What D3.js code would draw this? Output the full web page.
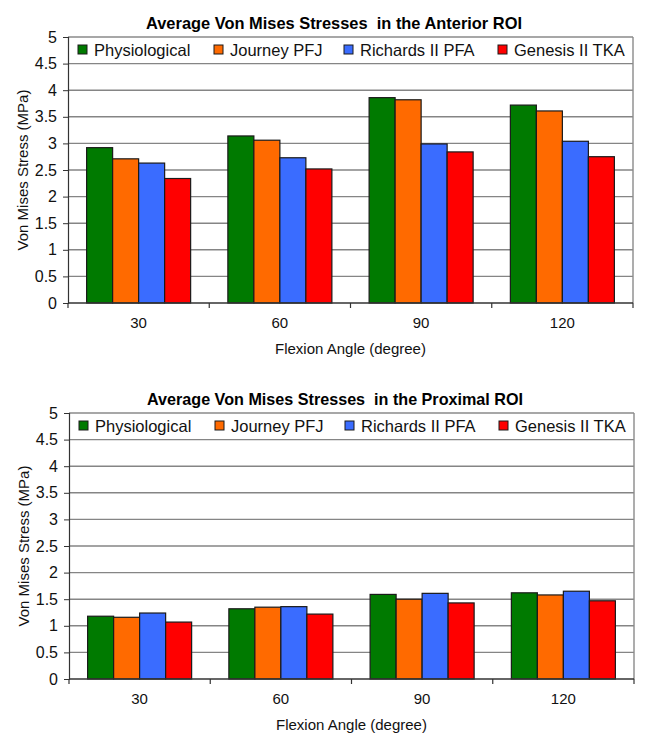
<!DOCTYPE html>
<html>
<head>
<meta charset="utf-8">
<script src="https://cdn.jsdelivr.net/npm/d3@7"></script>
<style>
  html, body { margin: 0; padding: 0; background: #ffffff; }
  svg { display: block; font-family: Arial, "Liberation Sans", sans-serif; }
</style>
</head>
<body>
<svg id="chart" width="656" height="742"></svg>
<script>
// ---- DATA ----
const categories = ["30", "60", "90", "120"];
const seriesNames = ["Physiological", "Journey PFJ", "Richards II PFA", "Genesis II TKA"];
const seriesColors = ["#007a00", "#ff6a00", "#3a6cff", "#ff0000"];
const yTicks = [0, 0.5, 1, 1.5, 2, 2.5, 3, 3.5, 4, 4.5, 5];

// Anterior ROI values [series][category]
const anteriorPhysiological = [2.92, 3.14, 3.86, 3.72];
const anteriorJourney       = [2.71, 3.06, 3.82, 3.61];
const anteriorRichards      = [2.63, 2.73, 2.99, 3.04];
const anteriorGenesis       = [2.34, 2.52, 2.84, 2.75];

// Proximal ROI values [series][category]
const proximalPhysiological = [1.18, 1.32, 1.59, 1.62];
const proximalJourney       = [1.16, 1.35, 1.50, 1.58];
const proximalRichards      = [1.24, 1.36, 1.61, 1.65];
const proximalGenesis       = [1.07, 1.22, 1.43, 1.47];

const charts = [
  { title: "Average Von Mises Stresses  in the Anterior ROI",
    series: [anteriorPhysiological, anteriorJourney, anteriorRichards, anteriorGenesis],
    dx: 0, dy: 0 },
  { title: "Average Von Mises Stresses  in the Proximal ROI",
    series: [proximalPhysiological, proximalJourney, proximalRichards, proximalGenesis],
    dx: 1, dy: 376 }
];

const svg = d3.select("#chart");

const plotLeft = 68, plotRight = 633, plotTop = 37, plotBottom = 303;
const legendSquareX = [78, 214, 344, 498];

charts.forEach(cfg => {
  const g = svg.append("g").attr("transform", `translate(${cfg.dx},${cfg.dy})`);

  const x0 = d3.scaleBand().domain(categories).range([plotLeft, plotRight]).padding(0);
  const x1 = d3.scaleBand().domain(seriesNames).range([0, x0.bandwidth()])
    .paddingInner(0).paddingOuter(0.716);
  const y = d3.scaleLinear().domain([0, 5]).range([plotBottom, plotTop]);

  // gridlines
  g.append("g").selectAll("line")
    .data(yTicks.filter(t => t > 0 && t < 5))
    .join("line")
    .attr("x1", plotLeft).attr("x2", plotRight)
    .attr("y1", d => y(d)).attr("y2", d => y(d))
    .attr("stroke", "#858585").attr("stroke-width", 1.4);

  // plot border top and right
  g.append("line").attr("x1", plotLeft).attr("x2", plotRight)
    .attr("y1", y(5)).attr("y2", y(5))
    .attr("stroke", "#8a8a8a").attr("stroke-width", 1.4);
  g.append("line").attr("x1", plotRight).attr("x2", plotRight)
    .attr("y1", y(5)).attr("y2", y(0))
    .attr("stroke", "#8a8a8a").attr("stroke-width", 1.4);

  // bars
  seriesNames.forEach((name, si) => {
    g.append("g").selectAll("rect")
      .data(categories.map((c, ci) => ({ c, v: cfg.series[si][ci] })))
      .join("rect")
      .attr("x", d => x0(d.c) + x1(name))
      .attr("width", x1.bandwidth())
      .attr("y", d => y(d.v))
      .attr("height", d => y(0) - y(d.v))
      .attr("fill", seriesColors[si])
      .attr("stroke", "#1a1a1a").attr("stroke-width", 1.2);
  });

  // y axis
  const yAxis = d3.axisLeft(y).tickValues(yTicks).tickSize(5).tickPadding(6)
    .tickFormat(d => String(d));
  const ya = g.append("g").attr("transform", `translate(${plotLeft},0)`).call(yAxis);
  ya.select(".domain").attr("stroke", "#333").attr("stroke-width", 1.2);
  ya.selectAll(".tick line").attr("stroke", "#333");
  ya.selectAll("text").attr("font-size", 16).attr("fill", "#111")
    .attr("font-family", "Arial, 'Liberation Sans', sans-serif");

  // x axis: ticks at band boundaries
  const xa = g.append("g").attr("transform", `translate(0,${plotBottom})`);
  xa.append("line").attr("x1", plotLeft).attr("x2", plotRight)
    .attr("y1", 0).attr("y2", 0).attr("stroke", "#333").attr("stroke-width", 1.4);
  const bounds = categories.map(c => x0(c)).concat([x0(categories[categories.length - 1]) + x0.bandwidth()]);
  xa.selectAll("line.tk").data(bounds).join("line").attr("class", "tk")
    .attr("x1", d => d).attr("x2", d => d).attr("y1", 0).attr("y2", 5)
    .attr("stroke", "#333").attr("stroke-width", 1.2);
  xa.selectAll("text").data(categories).join("text")
    .attr("x", d => x0(d) + x0.bandwidth() / 2)
    .attr("y", 20).attr("dy", "0.35em")
    .attr("text-anchor", "middle").attr("font-size", 15).attr("fill", "#111")
    .text(d => d);

  // axis titles
  g.append("text").attr("x", (plotLeft + plotRight) / 2).attr("y", plotBottom + 46)
    .attr("dy", "0.35em").attr("text-anchor", "middle")
    .attr("font-size", 15).attr("fill", "#111").text("Flexion Angle (degree)");
  g.append("text")
    .attr("transform", `translate(23,${(plotTop + plotBottom) / 2}) rotate(-90)`)
    .attr("dy", "0.35em").attr("text-anchor", "middle")
    .attr("font-size", 15).attr("fill", "#111").text("Von Mises Stress (MPa)");

  // title
  g.append("text").attr("x", 334).attr("y", 29)
    .attr("text-anchor", "middle").attr("font-size", 17).attr("font-weight", "bold")
    .attr("fill", "#000")
    .attr("textLength", 376).attr("lengthAdjust", "spacingAndGlyphs")
    .attr("xml:space", "preserve")
    .style("white-space", "pre")
    .text(cfg.title);

  // legend
  const lg = g.append("g");
  seriesNames.forEach((name, si) => {
    lg.append("rect").attr("x", legendSquareX[si]).attr("y", 45)
      .attr("width", 9).attr("height", 9)
      .attr("fill", seriesColors[si]).attr("stroke", "#1a1a1a").attr("stroke-width", 1);
    lg.append("text").attr("x", legendSquareX[si] + 16).attr("y", 50)
      .attr("dy", "0.35em").attr("font-size", 16.5).attr("fill", "#111")
      .text(name);
  });
});
</script>
</body>
</html>
